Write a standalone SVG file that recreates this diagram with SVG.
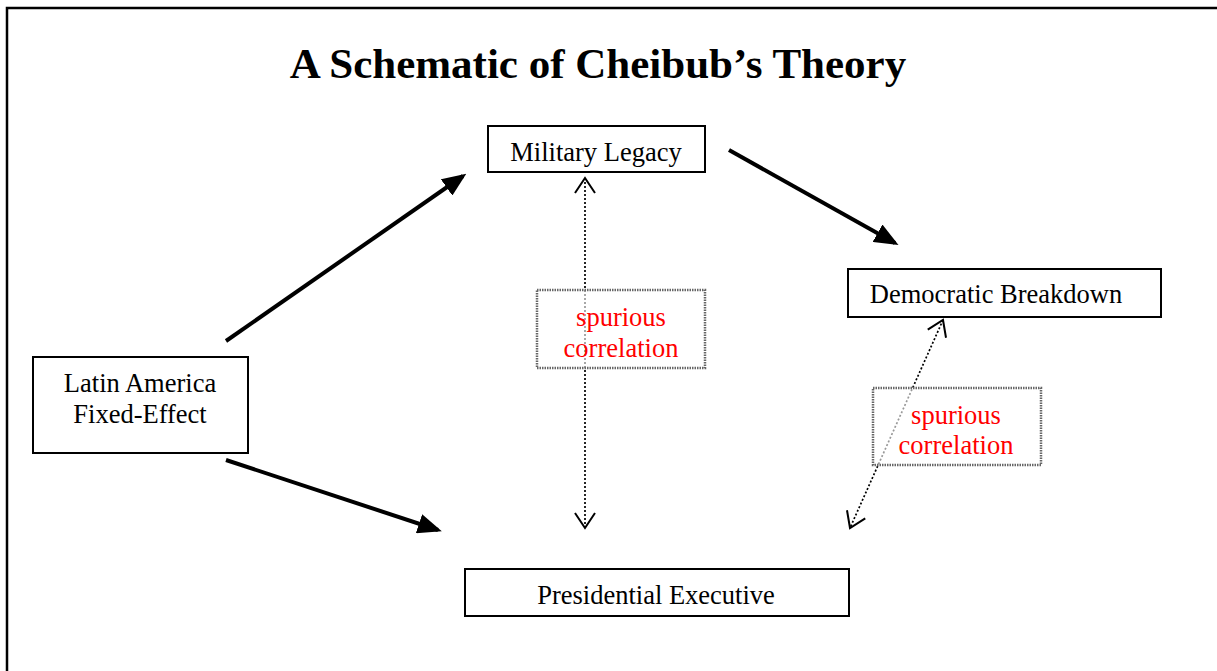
<svg xmlns="http://www.w3.org/2000/svg" width="1217" height="671" viewBox="0 0 1217 671">
<style>
text{font-family:"Liberation Serif","Times New Roman",serif;}
.t{font-size:26.5px;fill:#000;text-anchor:middle;}
.r{font-size:26.5px;fill:#ff0000;text-anchor:middle;}
.box{fill:#fff;stroke:#000;stroke-width:2;}
.sb{fill:#fff;stroke:#666;stroke-width:2.5;stroke-dasharray:1.5 1;}
.solid{stroke:#000;stroke-width:4;fill:none;}
.dot{stroke:#000;stroke-width:1.7;stroke-dasharray:2 2;fill:none;}
</style>
<defs>
<marker id="ah" markerWidth="6" markerHeight="5" refX="5" refY="2.5" orient="auto" markerUnits="strokeWidth">
<path d="M0,0 L6,2.5 L0,5 Z" fill="#000"/>
</marker>
<marker id="oh" markerWidth="20" markerHeight="24" refX="17" refY="12" orient="auto-start-reverse" markerUnits="userSpaceOnUse">
<path d="M2,2 L17,12 L2,22" fill="none" stroke="#000" stroke-width="2"/>
</marker>
</defs>
<rect width="1217" height="671" fill="#fff"/>
<path d="M7,671 V8 H1217" fill="none" stroke="#000" stroke-width="2.5"/>
<text x="598" y="78" style="font-size:43px;font-weight:bold;" text-anchor="middle">A Schematic of Cheibub’s Theory</text>
<g id="connectors">
<line class="solid" x1="226" y1="341" x2="463" y2="176" marker-end="url(#ah)"/>
<line class="solid" x1="729" y1="150" x2="895" y2="243" marker-end="url(#ah)"/>
<line class="solid" x1="226" y1="460" x2="438" y2="530" marker-end="url(#ah)"/>
<line class="dot" x1="585" y1="178" x2="585" y2="528" marker-start="url(#oh)" marker-end="url(#oh)"/>
<line class="dot" x1="943" y1="320" x2="850" y2="528" marker-start="url(#oh)" marker-end="url(#oh)"/>
</g>
<g id="military">
<rect class="box" x="488" y="126" width="217" height="46"/>
<text class="t" x="596" y="161">Military Legacy</text>
</g>
<g id="democratic">
<rect class="box" x="848" y="269" width="313" height="48"/>
<text class="t" x="996" y="303">Democratic Breakdown</text>
</g>
<g id="latin">
<rect class="box" x="33" y="357" width="215" height="96"/>
<text class="t" x="140" y="392">Latin America</text>
<text class="t" x="140" y="423">Fixed-Effect</text>
</g>
<g id="presidential">
<rect class="box" x="465" y="569" width="384" height="47"/>
<text class="t" x="656" y="604">Presidential Executive</text>
</g>
<g id="spurious1">
<rect class="sb" x="537" y="290" width="168" height="78" fill-opacity="0.6"/>
<text class="r" x="621" y="326">spurious</text>
<text class="r" x="621" y="357">correlation</text>
</g>
<g id="spurious2">
<rect class="sb" x="873" y="388" width="168" height="77" fill-opacity="0.6"/>
<text class="r" x="956" y="424">spurious</text>
<text class="r" x="956" y="454">correlation</text>
</g>
</svg>
